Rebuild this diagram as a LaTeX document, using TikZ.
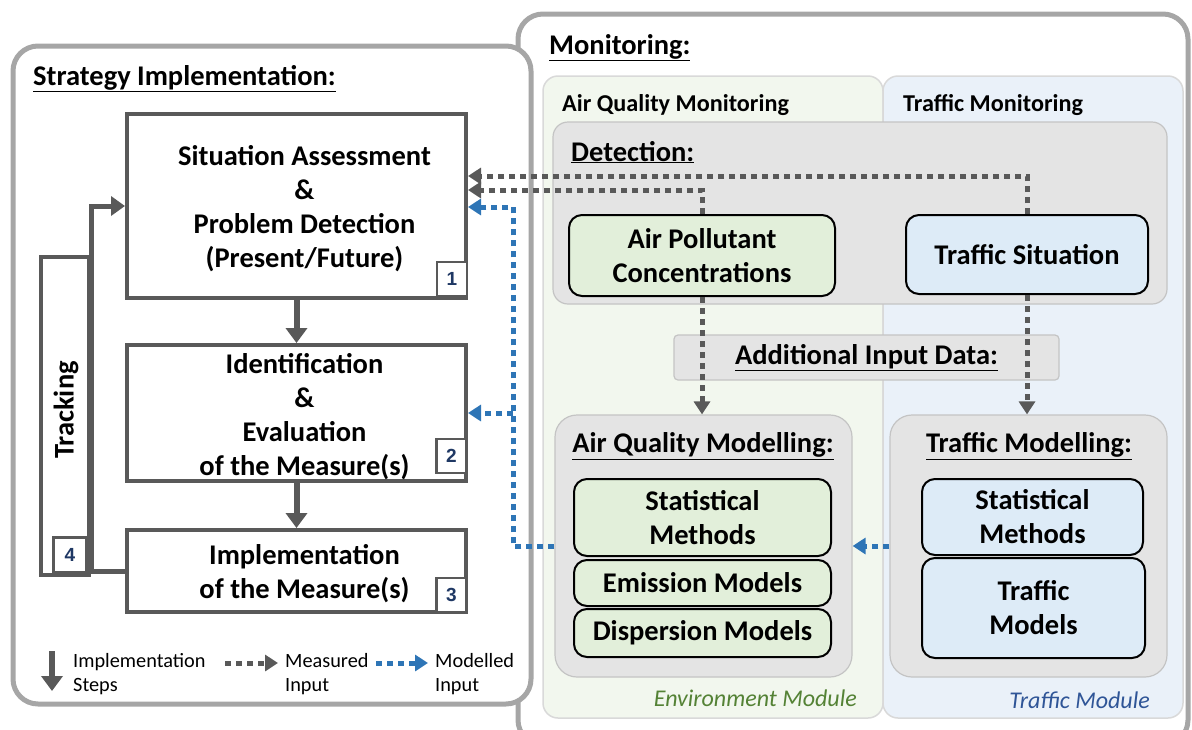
\documentclass[tikz,border=0pt]{standalone}
\usepackage{fontspec}
\setmainfont{Carlito}
\newfontfamily\numfont{Liberation Sans}
\usetikzlibrary{arrows.meta,calc}

\definecolor{framegray}{HTML}{A6A6A6}
\definecolor{stepgray}{HTML}{595959}
\definecolor{panelline}{HTML}{D9D9D9}
\definecolor{greenpanel}{HTML}{F2F7EE}
\definecolor{bluepanel}{HTML}{EAF1F9}
\definecolor{boxgray}{HTML}{E4E4E4}
\definecolor{boxgrayline}{HTML}{C4C4C4}
\definecolor{greenfill}{HTML}{E2EFDA}
\definecolor{bluefill}{HTML}{DDEBF7}
\definecolor{modelblue}{HTML}{2E75B6}
\definecolor{numblue}{HTML}{1F3864}
\definecolor{envgreen}{HTML}{548235}
\definecolor{trafblue}{HTML}{2F5597}

\newcommand{\bigbold}{\fontsize{28.5}{34}\selectfont\bfseries}

\tikzset{
  frame/.style={draw=framegray, line width=5pt, rounded corners=25pt, fill=white, inner sep=0pt},
  panel/.style={draw=panelline, line width=1.5pt, rounded corners=15pt, inner sep=0pt},
  graybox/.style={draw=boxgrayline, line width=1.2pt, fill=boxgray, rounded corners=18pt, inner sep=0pt},
  greenbox/.style={draw=black, line width=2pt, fill=greenfill, rounded corners=13pt, inner sep=0pt,
    align=center, font=\bigbold},
  bluebox/.style={greenbox, fill=bluefill},
  stepbox/.style={draw=stepgray, line width=4pt, fill=white, inner sep=0pt},
  steptext/.style={inner sep=0pt, align=center, font=\bigbold},
  numbox/.style={draw=stepgray, line width=2.5pt, fill=white, inner sep=0pt,
    minimum width=30pt, minimum height=34pt, text=numblue, font=\numfont\fontsize{19}{22}\selectfont\bfseries},
  title/.style={inner sep=0pt, font=\bigbold},
  stepflow/.style={draw=stepgray, line width=6pt, -{Triangle[length=15pt,width=21pt]}},
  trackline/.style={draw=stepgray, line width=5pt, -{Triangle[length=14pt,width=19pt]}},
  measured/.style={draw=stepgray, line width=5pt, dash pattern=on 6pt off 5pt, -{Triangle[length=13pt,width=16pt]}},
  modelled/.style={draw=modelblue, line width=5pt, dash pattern=on 6pt off 5pt, -{Triangle[length=13pt,width=16pt]}},
  legendtext/.style={inner sep=0pt, anchor=west, align=left, font=\fontsize{20.3}{24}\selectfont},
}

\begin{document}
\begin{tikzpicture}[x=1pt,y=-1pt]
\useasboundingbox (0,0) rectangle (1192,729);

% outer frames
\node[frame, minimum width=670pt, minimum height=731pt] (monframe) at (853,379.5) {};
\node[frame, minimum width=518pt, minimum height=658pt] (stratframe) at (272,375) {};

\node[title, anchor=base west] (strattitle) at (33,85) {\underline{Strategy Implementation:}};
\node[title, anchor=base west] (montitle) at (549,54) {\underline{Monitoring:}};

% monitoring panels
\node[panel, fill=greenpanel, minimum width=340pt, minimum height=642pt] (aqpanel) at (713,397) {};
\node[panel, fill=bluepanel, minimum width=300pt, minimum height=642pt] (trpanel) at (1033,397) {};
\node[inner sep=0pt, anchor=base west, font=\fontsize{24.2}{28}\selectfont\bfseries] (aqlabel) at (562,111) {Air Quality Monitoring};
\node[inner sep=0pt, anchor=base west, font=\fontsize{24.2}{28}\selectfont\bfseries] (trlabel) at (903,111) {Traffic Monitoring};

% detection
\node[graybox, rounded corners=15pt, minimum width=614pt, minimum height=182pt] (det) at (860,213) {};
\node[title, anchor=base west] (dettitle) at (571,161) {\underline{Detection:}};
\node[greenbox, minimum width=266pt, minimum height=81pt] (apc) at (702,255.5) {Air Pollutant\\Concentrations};
\node[bluebox, minimum width=242pt, minimum height=79pt] (ts) at (1027,254.5) {Traffic Situation};

% additional input
\node[graybox, rounded corners=4pt, minimum width=385pt, minimum height=45pt, font=\bigbold] (aid) at (866.5,357.5) {\underline{Additional Input Data:}};

% modelling blocks
\node[graybox, rounded corners=22pt, minimum width=297pt, minimum height=262pt] (aqm) at (703.5,546) {};
\node[title] (aqmtitle) at (703,446) {\underline{Air Quality Modelling:}};
\node[greenbox, minimum width=257pt, minimum height=77pt] (aq1) at (702.5,517.5) {Statistical\\Methods};
\node[greenbox, minimum width=257pt, minimum height=46pt] (aq2) at (702.5,583) {Emission Models};
\node[greenbox, minimum width=257pt, minimum height=48pt] (aq3) at (702.5,633) {Dispersion Models};

\node[graybox, rounded corners=22pt, minimum width=277pt, minimum height=262pt] (tm) at (1028.5,546) {};
\node[title] (tmtitle) at (1029,446) {\underline{Traffic Modelling:}};
\node[bluebox, minimum width=221pt, minimum height=76pt] (t1) at (1032.5,517) {Statistical\\Methods};
\node[bluebox, minimum width=223pt, minimum height=100pt] (t2) at (1033.5,608) {Traffic\\Models};

\node[inner sep=0pt, anchor=base east, text=envgreen, font=\fontsize{24}{28}\selectfont\itshape] (envmod) at (857,706) {Environment Module};
\node[inner sep=0pt, anchor=base east, text=trafblue, font=\fontsize{24}{28}\selectfont\itshape] (trafmod) at (1150,708) {Traffic Module};

% implementation steps (text sits slightly right of and below each box centre)
\node[stepbox, minimum width=339pt, minimum height=184pt] (s1) at (296.5,206) {};
\node[stepbox, minimum width=339pt, minimum height=136pt] (s2) at (296.5,413) {};
\node[stepbox, minimum width=339pt, minimum height=82pt] (s3) at (296.5,571) {};
\node[steptext] (s1t) at ([xshift=8pt,yshift=-3pt]s1.center) {Situation Assessment\\\&\\Problem Detection\\(Present/Future)};
\node[steptext] (s2t) at ([xshift=8pt,yshift=-4pt]s2.center) {Identification\\\&\\Evaluation\\of the Measure(s)};
\node[steptext] (s3t) at ([xshift=8pt,yshift=-3pt]s3.center) {Implementation\\of the Measure(s)};
\node[numbox] (n1) at (452,279) {1};
\node[numbox] (n2) at (451.5,456) {2};
\node[numbox] (n3) at (451.5,595) {3};

% tracking loop
\node[draw=stepgray, line width=4pt, minimum width=48pt, minimum height=318pt, inner sep=0pt] (trk) at (65,416) {};
\node[rotate=90, font=\bigbold, inner sep=0pt] (trktext) at (66,410) {Tracking};
\node[numbox, minimum width=33pt, minimum height=35pt] (n4) at (70,555) {4};

\draw[stepflow] (s1.south) -- (s2.north);
\draw[stepflow] (s2.south) -- (s3.north);
\draw[trackline] (s3.west) -- (s3.west -| trk.east) -- (s1.west -| trk.east) -- (s1.west);

% measured inputs
\draw[measured] (ts.north) |- ([yshift=30pt]s1.east);
\draw[measured] (apc.north) |- ([yshift=16pt]s1.east);
\draw[measured] (apc.south) -- (apc.south |- aqm.north);
\draw[measured] (ts.south) -- (ts.south |- tm.north);

% modelled inputs
\coordinate (mbus) at (513,0);
\draw[modelled] (aqm.west) -- (aqm.west -| mbus) |- ([yshift=-1pt]s1.east);
\draw[modelled] (s2.east -| mbus) -- (s2.east);
\draw[modelled] (tm.west) -- (aqm.east);

% legend
\coordinate (lgA1) at (52,651);
\coordinate (lgA2) at (52,691);
\draw[stepflow] (lgA1) -- (lgA2);
\node[legendtext] (lgT1) at (73,674) {Implementation\\Steps};
\coordinate (lgB1) at (225,663);
\coordinate (lgB2) at (278,663);
\draw[measured] (lgB1) -- (lgB2);
\node[legendtext] (lgT2) at (285,674) {Measured\\Input};
\coordinate (lgC1) at (376,663);
\coordinate (lgC2) at (428,663);
\draw[modelled] (lgC1) -- (lgC2);
\node[legendtext] (lgT3) at (435,674) {Modelled\\Input};
\end{tikzpicture}
\end{document}
